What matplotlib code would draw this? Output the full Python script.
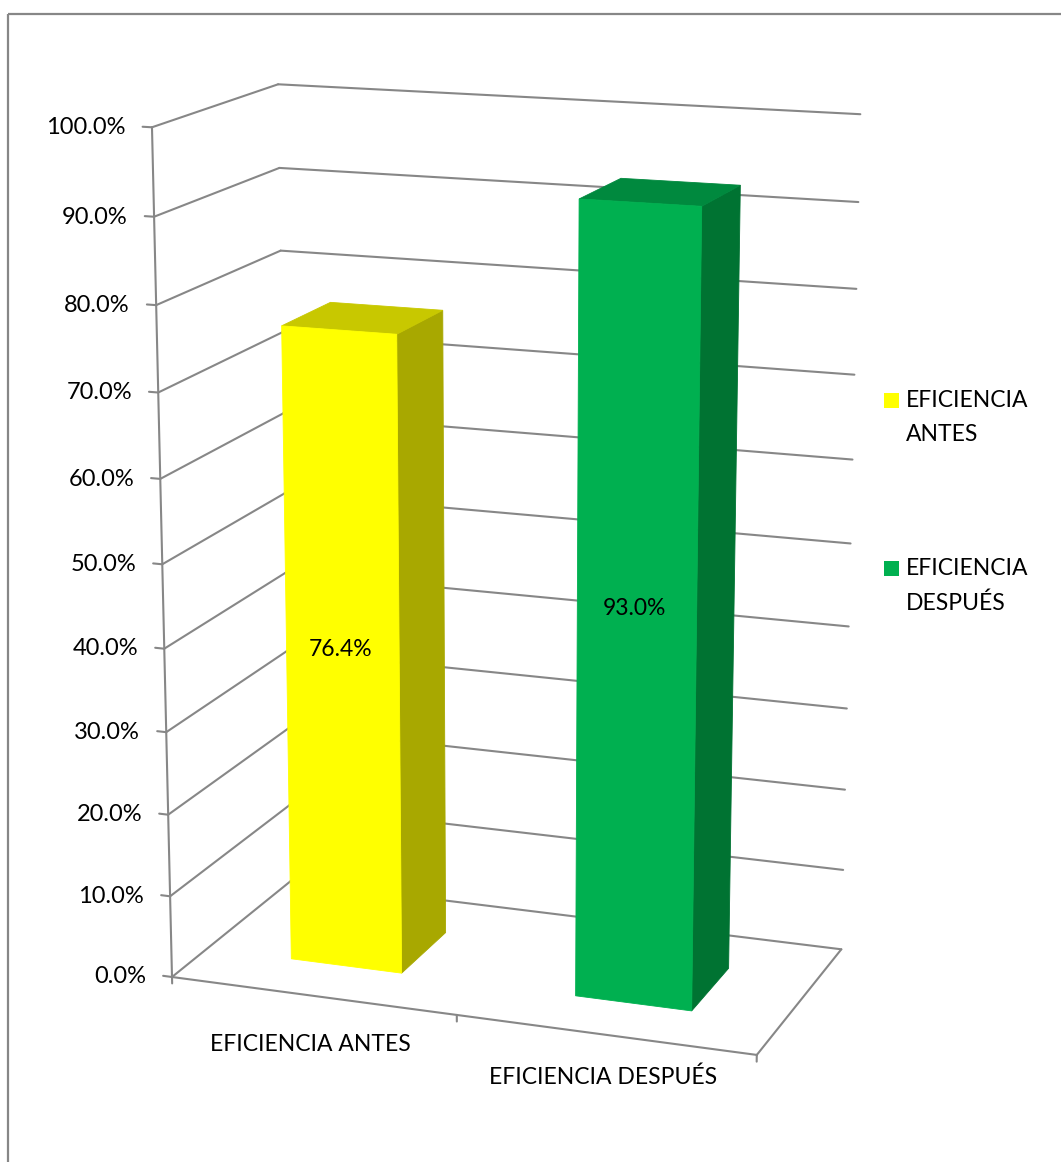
import matplotlib
matplotlib.use("Agg")
import matplotlib.pyplot as plt
import numpy as np
from matplotlib.patches import Polygon

# Data
categories = ['EFICIENCIA ANTES', 'EFICIENCIA DESPUÉS']
legend_labels = ['EFICIENCIA\nANTES', 'EFICIENCIA\nDESPUÉS']
values = [0.764, 0.930]
y_ticks = [0.0, 0.1, 0.2, 0.3, 0.4, 0.5, 0.6, 0.7, 0.8, 0.9, 1.0]

# Colours (front, top, side)
FRONT = ['#FFFF00', '#00B050']
TOP = ['#C8C800', '#00893E']
SIDE = ['#A8A800', '#007332']
GRID = '#878787'

# Figure
W_PX, H_PX = 1061, 1162
DPI = 100
FONT_SIZE = 16.5
plt.rcParams['font.family'] = ['Lato', 'DejaVu Sans']

# Perspective camera: world (X category 0..1, Y value 0..1, Z depth 0..1) -> pixels
CAM = np.array([
    [546.5, -28.47, 138.3, 172.0],
    [24.54, -856.8, -34.78, 977.0],
    [-0.0506, -0.0556, 0.069, 1.0],
])

def proj(X, Y, Z):
    h = CAM @ np.array([X, Y, Z, 1.0])
    return h[0] / h[2], h[1] / h[2]

def line3d(ax, p, q, **kw):
    a = proj(*p)
    b = proj(*q)
    ax.plot([a[0], b[0]], [a[1], b[1]], **kw)

def face(ax, pts, color):
    xy = [proj(*p) for p in pts]
    ax.add_patch(Polygon(xy, closed=True, facecolor=color, edgecolor=color, lw=0.6, zorder=3))

fig = plt.figure(figsize=(W_PX / DPI, H_PX / DPI), dpi=DPI)
ax = fig.add_axes([0, 0, 1, 1])
ax.set_xlim(0, W_PX)
ax.set_ylim(H_PX, 0)
ax.axis('off')

# chart area border
ax.plot([8, W_PX], [13.5, 13.5], color=GRID, lw=1.6, solid_capstyle='butt')
ax.plot([8, 8], [13.5, H_PX], color=GRID, lw=1.6, solid_capstyle='butt')

line_kw = dict(color=GRID, lw=1.5, solid_capstyle='round', zorder=2)

# gridlines on the side wall and back wall
for t in y_ticks:
    line3d(ax, (0, t, 0), (0, t, 1), **line_kw)
    line3d(ax, (0, t, 1), (1, t, 1), **line_kw)
    # tick mark + label
    line3d(ax, (-0.016, t, 0), (0, t, 0), **line_kw)
    tx, ty = proj(-0.016, t, 0)
    ax.text(tx - 17, ty + 1, f'{t * 100:.1f}%', ha='right', va='center', fontsize=17)

# value axis and floor
line3d(ax, (0, 0, 0), (0, 1, 0), **line_kw)
line3d(ax, (0, 0, 0), (1, 0, 0), **line_kw)
line3d(ax, (1, 0, 0), (1, 0, 1), **line_kw)
n = len(categories)
for i in range(n + 1):
    line3d(ax, (i / n, 0, 0), (i / n, -0.008, 0), **line_kw)

# bars
half_w = 0.0985
z_front, z_back = 0.29, 0.70
for i, v in enumerate(values):
    c = (i + 0.5) / n
    x0, x1 = c - half_w, c + half_w
    face(ax, [(x1, 0, z_front), (x1, 0, z_back), (x1, v, z_back), (x1, v, z_front)], SIDE[i])
    face(ax, [(x0, v, z_front), (x1, v, z_front), (x1, v, z_back), (x0, v, z_back)], TOP[i])
    face(ax, [(x0, 0, z_front), (x1, 0, z_front), (x1, v, z_front), (x0, v, z_front)], FRONT[i])
    lx, ly = proj(c, v / 2, z_front)
    ax.text(lx - 2, ly - 5, f'{v * 100:.1f}%', ha='center', va='center',
            fontsize=FONT_SIZE, zorder=4)

# category labels
cat_offsets = [49, 43]
for i, cat in enumerate(categories):
    cx, cy = proj((i + 0.5) / n, 0, 0)
    ax.text(cx - 2, cy + cat_offsets[i], cat, ha='center', va='center', fontsize=FONT_SIZE)

# legend
leg_y = [400, 568]
for i, lab in enumerate(legend_labels):
    ax.add_patch(plt.Rectangle((884, leg_y[i] - 7.5), 15, 15, facecolor=FRONT[i], edgecolor='none'))
    ax.text(906, leg_y[i] - 10, lab, ha='left', va='top', fontsize=FONT_SIZE, linespacing=1.75)

fig.savefig('out.png', dpi=DPI)
